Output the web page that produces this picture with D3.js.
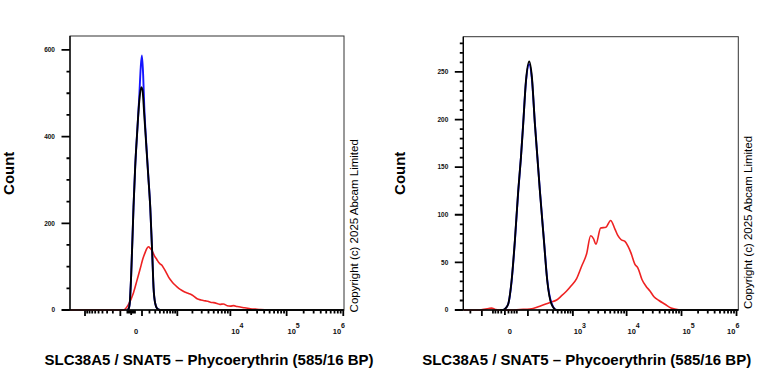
<!DOCTYPE html>
<html>
<head>
<meta charset="utf-8">
<script src="https://cdn.jsdelivr.net/npm/d3@7/dist/d3.min.js"></script>
<style>
  body { margin: 0; background: #fff; }
  svg { display: block; font-family: "Liberation Sans", Arial, sans-serif; }
</style>
</head>
<body>
<div id="chart"></div>
<script>
// ---- data (fluorescence intensity, count) ----

// left panel
const leftRedIntensity = [-1990, -166, -67, -23, 18, 50, 80, 110, 139, 162, 185, 212, 240, 285, 335, 370, 409, 450, 494, 560, 647, 760, 906, 1070, 1248, 1450, 1689, 2000, 2453, 2900, 3511, 3900, 4348, 5000, 5769, 6500, 7500, 8762, 10000, 11500, 13262, 15000, 18000, 22930, 28000, 34570, 45000, 59560];
const leftRedCount = [0, 0, 0, 12, 40, 70, 95, 118, 133, 142, 146, 142, 137, 125, 116, 110, 106, 103, 97, 88, 76, 66, 57, 50, 45, 41, 38, 34, 26, 23, 21, 20, 18, 17, 15, 13, 14, 10, 9, 10, 8, 7, 5, 3, 2, 1, 0.5, 0];
const leftBlueIntensity = [-32, -21, -11, 0, 18, 32, 50, 70, 86, 99, 114, 127, 153, 181, 212, 245, 268, 300, 341, 409, 600, 1030000];
const leftBlueCount = [0, 2, 15, 80, 237, 330, 410, 490, 560, 587, 540, 470, 385, 312, 237, 130, 52, 15, 3, 0, 0, 0];
const leftBlackIntensity = [-32, -21, -11, 0, 18, 32, 50, 70, 91, 105, 127, 153, 181, 212, 245, 268, 300, 341, 409, 600, 1030000];
const leftBlackCount = [0, 2, 15, 80, 237, 330, 410, 480, 514, 508, 450, 380, 310, 237, 130, 52, 15, 3, 0, 0, 0];
const leftYLabels = [0, 200, 400, 600];
const leftXLabels = [0, 1e4, 1e5, 1e6];

// right panel
const rightRedIntensity = [-290, -114, -60, -46, -30, -14, 14, 54, 114, 205, 344, 476, 601, 755, 945, 1180, 1469, 1825, 2169, 2450, 2724, 3329, 4171, 5092, 6108, 6935, 7866, 9316, 10576, 11995, 14190, 16100, 19050, 22530, 26650, 31520, 38870, 50000, 64300, 93720];
const rightRedCount = [0, 0, 1.5, 2, 0.5, 0, 0, 0.5, 1, 4, 8, 10.5, 15, 20, 26, 33, 46, 59, 78, 75, 69, 86, 87, 94, 85, 78, 74, 72, 67, 60, 48, 44, 32, 25, 20, 14, 10, 6, 2, 0];
const rightBlueIntensity = [-14, -4.6, 0, 9, 20, 32, 46, 59, 71, 87, 109, 129, 155, 179, 205, 254, 301, 374, 476, 700, 1077000];
const rightBlueCount = [0, 0, 1, 6, 30, 72, 124, 160, 196, 239, 258, 243, 196, 160, 126, 74, 32, 7, 0, 0, 0];
const rightBlackIntensity = [-14, -4.6, 0, 9, 20, 32, 46, 59, 71, 87, 109, 129, 155, 179, 205, 254, 301, 374, 476, 700, 1077000];
const rightBlackCount = [0, 0, 1, 6, 31, 73, 125, 160, 195, 240, 261, 245, 195, 160, 125, 73, 31, 6, 0, 0, 0];
const rightYLabels = [0, 50, 100, 150, 200, 250];
const rightXLabels = [0, 1e3, 1e4, 1e5, 1e6];

const xTitle = "SLC38A5 / SNAT5 \u2013 Phycoerythrin (585/16 BP)";
const copyright = "Copyright (c) 2025 Abcam Limited";

const svg = d3.select("#chart").append("svg")
    .attr("width", 768)
    .attr("height", 384);

function drawPanel(cfg) {

    const x = d3.scaleSymlog()
        .constant(cfg.constant)
        .domain(cfg.xDomain)
        .range([cfg.left, cfg.right]);

    const y = d3.scaleLinear()
        .domain([0, cfg.yMax])
        .range([cfg.bottom, cfg.top]);

    const g = svg.append("g");

    // x ticks: 0, +-m*10^n (the smallest ones only close to zero)
    let xTicks = [{ v: 0, len: 5 }];
    for (let n = 1; n <= 6; n++) {
        for (let m = 1; m <= 9; m++) {
            let v = m * Math.pow(10, n);
            if (n === 1 && v > cfg.nearZeroMax) continue;
            [v, -v].forEach(t => {
                if (t < x.domain()[0] || t > x.domain()[1]) return;
                xTicks.push({ v: t, len: (m === 1 && n >= 2) ? 6 : 3.5 });
            });
        }
    }

    let xPath = d3.path();
    xTicks.forEach(d => {
        xPath.moveTo(x(d.v), cfg.bottom);
        xPath.lineTo(x(d.v), cfg.bottom + d.len);
    });
    g.append("path")
        .attr("d", xPath.toString())
        .attr("fill", "none")
        .attr("stroke", "#000")
        .attr("stroke-width", 1.8);

    // y ticks
    let yTicks = d3.range(0, cfg.yMax, cfg.yMinorStep).map(v => ({ v: v, len: cfg.yLabels.includes(v) ? 8.5 : 3.5 }));

    let yPath = d3.path();
    yTicks.forEach(d => {
        yPath.moveTo(cfg.left - d.len, y(d.v));
        yPath.lineTo(cfg.left, y(d.v));
    });
    g.append("path")
        .attr("d", yPath.toString())
        .attr("fill", "none")
        .attr("stroke", "#000")
        .attr("stroke-width", 1.8);

    g.append("g").selectAll("text")
        .data(cfg.yLabels)
        .enter().append("text")
        .attr("x", cfg.left - 15)
        .attr("y", d => y(d) + 2.3)
        .attr("text-anchor", "end")
        .attr("font-size", 6.5)
        .attr("font-weight", "bold")
        .attr("fill", "#111")
        .text(d => d);

    // x tick labels with superscripts
    cfg.xLabels.forEach(v => {
        let t = g.append("text")
            .attr("y", cfg.bottom + 24)
            .attr("font-size", 7.5)
            .attr("font-weight", "bold")
            .attr("fill", "#111");
        if (v === 0) {
            t.attr("x", x(v) + 5).attr("text-anchor", "middle").text("0");
        } else {
            let e = Math.round(Math.log10(v));
            if (v >= x.domain()[1] * 0.9) {
                t.attr("x", cfg.right + 1).attr("text-anchor", "end");
            } else {
                t.attr("x", x(v) + 7).attr("text-anchor", "middle");
            }
            t.append("tspan").text("10");
            t.append("tspan").attr("dy", -6).attr("font-size", 7).text(e);
        }
    });

    // histogram lines
    const clipId = "clip" + Math.round(cfg.left);
    svg.append("defs").append("clipPath").attr("id", clipId)
        .append("rect")
        .attr("x", cfg.left).attr("y", cfg.top)
        .attr("width", cfg.right - cfg.left).attr("height", cfg.bottom - cfg.top + 1);

    const line = d3.line()
        .x(d => x(d[0]))
        .y(d => y(d[1]))
        .curve(d3.curveMonotoneX);

    const series = [
        { xs: cfg.redX, ys: cfg.redY, color: "#ee2222", w: 1.6 },
        { xs: cfg.blueX, ys: cfg.blueY, color: "#1515ff", w: 1.9 },
        { xs: cfg.blackX, ys: cfg.blackY, color: "#000", w: 1.9 }
    ];

    g.append("g").attr("clip-path", `url(#${clipId})`)
        .selectAll("path")
        .data(series)
        .enter().append("path")
        .attr("d", s => line(d3.zip(s.xs, s.ys)))
        .attr("fill", "none")
        .attr("stroke", s => s.color)
        .attr("stroke-width", s => s.w)
        .attr("stroke-linejoin", "round");

    // frame
    g.append("rect")
        .attr("x", cfg.left).attr("y", cfg.top)
        .attr("width", cfg.right - cfg.left).attr("height", cfg.bottom - cfg.top)
        .attr("fill", "none").attr("stroke", "#333").attr("stroke-width", 1);

    g.append("line")
        .attr("x1", cfg.left).attr("x2", cfg.left)
        .attr("y1", cfg.top).attr("y2", cfg.bottom)
        .attr("stroke", "#000").attr("stroke-width", 1.3);
    g.append("line")
        .attr("x1", cfg.left).attr("x2", cfg.right)
        .attr("y1", cfg.bottom).attr("y2", cfg.bottom)
        .attr("stroke", "#000").attr("stroke-width", 1.3);

    // titles
    g.append("text")
        .attr("transform", `translate(${cfg.countX},173.3) rotate(-90)`)
        .attr("text-anchor", "middle")
        .attr("font-size", 15)
        .attr("font-weight", "bold")
        .text("Count");

    g.append("text")
        .attr("x", cfg.titleX).attr("y", 365)
        .attr("text-anchor", "middle")
        .attr("font-size", 15)
        .attr("font-weight", "bold")
        .text(xTitle);

    g.append("text")
        .attr("transform", `translate(${cfg.copyX},${cfg.copyY}) rotate(-90)`)
        .attr("text-anchor", "middle")
        .attr("font-size", 11.5)
        .text(copyright);
}

drawPanel({
    left: 70, right: 344, top: 36, bottom: 310,
    constant: 181, xDomain: [-1992, 1030000], nearZeroMax: 30,
    yMax: 632, yMinorStep: 50, yLabels: leftYLabels, xLabels: leftXLabels,
    redX: leftRedIntensity, redY: leftRedCount,
    blueX: leftBlueIntensity, blueY: leftBlueCount,
    blackX: leftBlackIntensity, blackY: leftBlackCount,
    countX: 13.5, titleX: 209, copyX: 358, copyY: 225.8
});

drawPanel({
    left: 463.3, right: 738.3, top: 36.7, bottom: 310,
    constant: 61.7, xDomain: [-290, 1077000], nearZeroMax: 40,
    yMax: 287, yMinorStep: 10, yLabels: rightYLabels, xLabels: rightXLabels,
    redX: rightRedIntensity, redY: rightRedCount,
    blueX: rightBlueIntensity, blueY: rightBlueCount,
    blackX: rightBlackIntensity, blackY: rightBlackCount,
    countX: 405.3, titleX: 586.7, copyX: 751.5, copyY: 222.5
});
</script>
</body>
</html>
